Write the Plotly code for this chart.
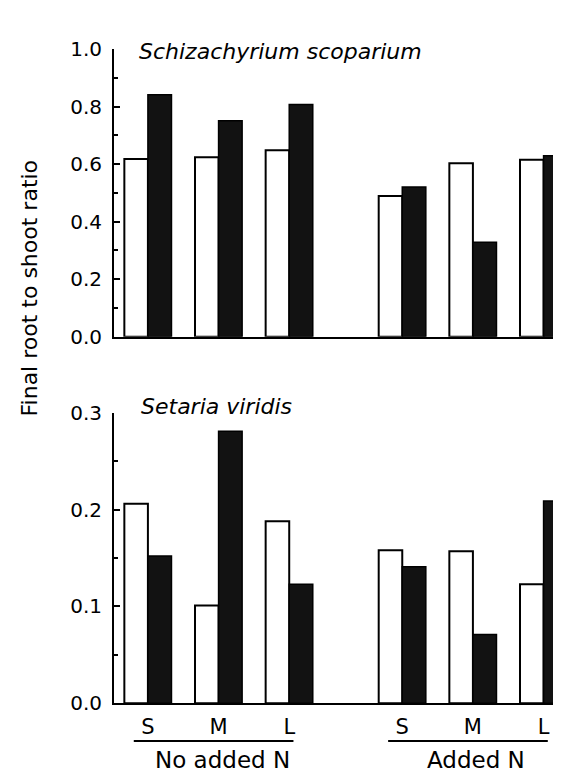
import plotly.graph_objects as go

# ---- data ----
sizes = ["S", "M", "L"]
treatments = ["No added N", "Added N"]
species = ["Schizachyrium scoparium", "Setaria viridis"]
# order: No added N (S, M, L), Added N (S, M, L)
schiz_open = [0.618, 0.624, 0.648, 0.489, 0.603, 0.615]
schiz_filled = [0.841, 0.751, 0.807, 0.520, 0.328, 0.629]
setaria_open = [0.206, 0.101, 0.188, 0.158, 0.157, 0.123]
setaria_filled = [0.152, 0.281, 0.123, 0.141, 0.071, 0.209]
schiz_ticks = [0.0, 0.2, 0.4, 0.6, 0.8, 1.0]
setaria_ticks = [0.0, 0.1, 0.2, 0.3]

FONT = "DejaVu Sans"
GROUP_STEP = 3.6
pos = [g * GROUP_STEP + i for g in range(len(treatments)) for i in range(len(sizes))]
labels = [s for _ in treatments for s in sizes]

W, H = 561, 779
fig = go.Figure()

def add_panel(open_vals, filled_vals, xa, ya):
    fig.add_trace(go.Bar(x=pos, y=open_vals, xaxis=xa, yaxis=ya,
                         marker=dict(color="white", line=dict(color="black", width=2)),
                         offsetgroup="a", showlegend=False))
    fig.add_trace(go.Bar(x=pos, y=filled_vals, xaxis=xa, yaxis=ya,
                         marker=dict(color="#121212", line=dict(color="black", width=1.5)),
                         offsetgroup="b", showlegend=False))

add_panel(schiz_open, schiz_filled, "x", "y")
add_panel(setaria_open, setaria_filled, "x2", "y2")

xdom = [106 / W, 1.0]
xrange_ = [-0.48, 5.96]
common_x = dict(range=xrange_, domain=xdom, showline=True, linecolor="black",
                linewidth=2, showgrid=False, zeroline=False, ticks="")
yaxis_common = dict(showline=True, linecolor="black", linewidth=2, showgrid=False,
                    zeroline=False, ticks="inside", ticklen=6, tickwidth=2,
                    tickcolor="black", tickformat=".1f", ticklabelstandoff=6,
                    tickfont=dict(family=FONT, size=20, color="black"))

fig.update_layout(
    width=W, height=H,
    margin=dict(l=0, r=0, t=0, b=0),
    paper_bgcolor="white", plot_bgcolor="white",
    barmode="group", bargap=0.333, bargroupgap=0.0,
    xaxis=dict(common_x, anchor="y", showticklabels=False),
    xaxis2=dict(common_x, anchor="y2", tickmode="array", tickvals=pos, ticktext=labels,
                ticklabelstandoff=4,
                tickfont=dict(family=FONT, size=21, color="black")),
    yaxis=dict(yaxis_common, domain=[1 - 326.7 / H, 1 - 30 / H], range=[0, 1.0],
               anchor="x", tickvals=schiz_ticks,
               minor=dict(dtick=0.1, ticks="inside", ticklen=4, tickwidth=2, tickcolor="black")),
    yaxis2=dict(yaxis_common, domain=[1 - 705 / H, 1 - 405.3 / H], range=[0, 0.3],
                anchor="x2", tickvals=setaria_ticks,
                minor=dict(dtick=0.05, ticks="inside", ticklen=4, tickwidth=2, tickcolor="black")),
)

# species titles
fig.add_annotation(text=species[0], xref="paper", yref="paper", x=129 / W, y=1 - 33 / H,
                   xanchor="left", yanchor="middle", showarrow=False,
                   font=dict(family=FONT, size=22, color="black", style="italic"))
fig.add_annotation(text=species[1], xref="paper", yref="paper", x=131 / W, y=1 - 399 / H,
                   xanchor="left", yanchor="middle", showarrow=False,
                   font=dict(family=FONT, size=22, color="black", style="italic"))

# y-axis title
fig.add_annotation(text="Final root to shoot ratio", xref="paper", yref="paper",
                   x=21 / W, y=1 - 277 / H, xanchor="center", yanchor="middle",
                   textangle=-90, showarrow=False,
                   font=dict(family=FONT, size=22, color="black"))

# treatment group lines and labels
for g, name in enumerate(treatments):
    start = pos[g * len(sizes)]
    end = pos[g * len(sizes) + len(sizes) - 1]
    fig.add_shape(type="line", xref="x2", yref="paper", x0=start - 0.2, x1=end + 0.06,
                  y0=1 - 744 / H, y1=1 - 744 / H, line=dict(color="black", width=2))
    fig.add_annotation(text=name, xref="x2", yref="paper", x=(start + end) / 2 + 0.05,
                       y=1 - 764 / H, xanchor="center", yanchor="middle", showarrow=False,
                       font=dict(family=FONT, size=23, color="black"))

fig.write_html("out.html")
